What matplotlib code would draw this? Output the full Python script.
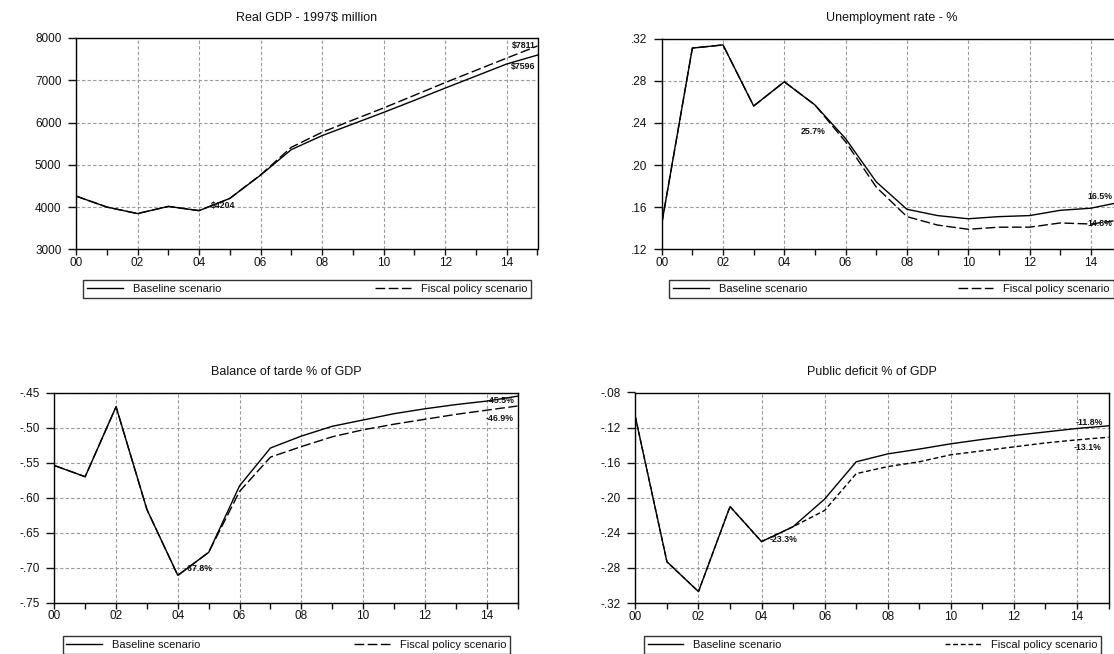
import matplotlib
matplotlib.use("Agg")
import matplotlib.pyplot as plt
from matplotlib.ticker import FuncFormatter, MultipleLocator, FixedLocator
from matplotlib.lines import Line2D

plt.rcParams['font.family'] = ['Liberation Sans', 'DejaVu Sans']

# ---------------- data ----------------
years = list(range(2000, 2016))
xtick_years = list(range(2000, 2015, 2))

gdp_base = [4260, 4000, 3845, 4015, 3915, 4204, 4755, 5360, 5690, 5965, 6240, 6525, 6815, 7100, 7385, 7596]
gdp_fiscal = [4260, 4000, 3845, 4015, 3915, 4204, 4762, 5415, 5770, 6060, 6345, 6645, 6945, 7235, 7525, 7811]

unemp_base = [.144, .311, .314, .256, .279, .257, .225, .184, .158, .152, .149, .151, .152, .157, .159, .165]
unemp_fiscal = [.144, .311, .314, .256, .279, .257, .222, .179, .151, .143, .139, .141, .141, .145, .144, .148]

trade_base = [-.554, -.570, -.470, -.617, -.711, -.678, -.583, -.529, -.512, -.498, -.489, -.480, -.473, -.467, -.462, -.455]
trade_fiscal = [-.554, -.570, -.470, -.617, -.711, -.678, -.591, -.542, -.527, -.513, -.503, -.495, -.488, -.481, -.475, -.469]

deficit_base = [-.108, -.273, -.307, -.210, -.250, -.233, -.2015, -.159, -.150, -.1445, -.1385, -.1335, -.129, -.125, -.121, -.118]
deficit_fiscal = [-.108, -.273, -.307, -.210, -.250, -.233, -.2145, -.1725, -.1645, -.159, -.151, -.1465, -.142, -.1375, -.134, -.131]

titles = ["Real GDP - 1997$ million", "Unemployment rate - %",
          "Balance of tarde % of GDP", "Public deficit % of GDP"]
series_names = ["Baseline scenario", "Fiscal policy scenario"]

# ---------------- layout (pixels) ----------------
W, H = 1114, 654
fig = plt.figure(figsize=(W / 100, H / 100), dpi=100)


def px_axes(l, r, t, b):
    return fig.add_axes([l / W, 1 - b / H, (r - l) / W, (b - t) / H])


def dec_fmt(v, pos):
    s = f"{v:.2f}"
    s = s.replace("-0.", "-.").replace("0.", ".")
    return s


def int_fmt(v, pos):
    return f"{int(round(v))}"


def year_fmt(v, pos):
    return f"{int(round(v)) % 100:02d}"


def style_axes(ax, ylim, ystep, yfmt, title):
    ax.set_xlim(2000, 2015)
    ax.set_ylim(*ylim)
    ax.xaxis.set_major_locator(FixedLocator(xtick_years))
    ax.xaxis.set_minor_locator(FixedLocator(list(range(2001, 2016, 2))))
    ax.xaxis.set_major_formatter(FuncFormatter(year_fmt))
    ax.yaxis.set_major_locator(MultipleLocator(ystep))
    ax.yaxis.set_major_formatter(FuncFormatter(yfmt))
    ax.tick_params(axis='x', which='both', direction='out', length=4, width=1,
                   labelsize=8.5, pad=1.5, colors='#111111')
    ax.tick_params(axis='y', which='major', direction='out', length=5.5, width=1,
                   labelsize=8.5, pad=5, colors='#111111')
    ax.grid(True, which='major', color='#9a9a9a', linestyle=(0, (3, 2)), linewidth=0.8)
    ax.set_axisbelow(True)
    for sp in ax.spines.values():
        sp.set_color('black')
        sp.set_linewidth(1.0)
    ax.set_title(title, fontsize=9, pad=12.5, color='#111111')


def plot_pair(ax, base, fiscal, dashes):
    l1, = ax.plot(years, base, color='black', lw=1.0, solid_joinstyle='miter')
    l2, = ax.plot(years, fiscal, color='black', lw=1.0, dashes=dashes)
    return l1, l2


def label(ax, x, y, text, dx_px, dy_px, ha):
    ax.annotate(text, xy=(x, y), xytext=(dx_px * 0.72, dy_px * 0.72),
                textcoords='offset points', ha=ha, va='center',
                fontsize=6.3, fontweight='bold', color='#111111',
                annotation_clip=False)


def add_legend(handles, l, r, t, dashes):
    h = [Line2D([], [], color='black', lw=1.0),
         Line2D([], [], color='black', lw=1.0, dashes=dashes)]
    leg = fig.legend(h, series_names, loc='upper left',
                     bbox_to_anchor=(l / W, 1 - t / H, (r - l) / W, 0.0001),
                     mode='expand', ncol=2, fontsize=8, frameon=True,
                     fancybox=False, borderpad=0.35, handlelength=3.2,
                     handletextpad=0.9, borderaxespad=0)
    fr = leg.get_frame()
    fr.set_edgecolor('black')
    fr.set_linewidth(1.0)
    for t_ in leg.get_texts():
        t_.set_color('#111111')


# ---- panel 1 ----
ax1 = px_axes(76, 537.5, 38, 249.3)
style_axes(ax1, (3000, 8000), 1000, int_fmt, titles[0])
d1 = (7, 2.5)
h1 = plot_pair(ax1, gdp_base, gdp_fiscal, d1)
label(ax1, years[-1], gdp_fiscal[-1], "$7811", -2, 0, 'right')
label(ax1, years[-1], gdp_base[-1], "$7596", -2, -11, 'right')
label(ax1, years[5], gdp_base[5], "$4204", -19, -7, 'left')
add_legend(h1, 83.3, 531, 280, d1)

# ---- panel 2 ----
ax2 = px_axes(661.7, 1121.5, 38.6, 249.3)
style_axes(ax2, (0.12, 0.32), 0.04, dec_fmt, titles[1])
d2 = (7, 2.5)
h2 = plot_pair(ax2, unemp_base, unemp_fiscal, d2)
label(ax2, years[5], unemp_base[5], "25.7%", -14, -27, 'left')
label(ax2, years[-1], unemp_base[-1], "16.5%", -9, 5, 'right')
label(ax2, years[-1], unemp_fiscal[-1], "14.8%", -9, -4, 'right')
add_legend(h2, 669.3, 1113.5, 280, d2)

# ---- panel 3 ----
ax3 = px_axes(54.3, 517.5, 392.7, 602.7)
style_axes(ax3, (-0.75, -0.45), 0.05, dec_fmt, titles[2])
d3 = (7, 2.5)
h3 = plot_pair(ax3, trade_base, trade_fiscal, d3)
label(ax3, years[5], trade_base[5], "-67.8%", -24, -16, 'left')
label(ax3, years[-1], trade_base[-1], "-45.5%", -3, -4, 'right')
label(ax3, years[-1], trade_fiscal[-1], "-46.9%", -4, -13, 'right')
add_legend(h3, 62.5, 510, 636, d3)

# ---- panel 4 ----
ax4 = px_axes(635.4, 1108.5, 392.5, 603)
style_axes(ax4, (-0.32, -0.08), 0.04, dec_fmt, titles[3])
d4 = (3.5, 2)
h4 = plot_pair(ax4, deficit_base, deficit_fiscal, d4)
label(ax4, years[5], deficit_base[5], "-23.3%", -23, -13, 'left')
label(ax4, years[-1], deficit_base[-1], "-11.8%", -6, 3, 'right')
label(ax4, years[-1], deficit_fiscal[-1], "-13.1%", -7, -10, 'right')
add_legend(h4, 644, 1101, 636, d4)

fig.savefig("out.png", dpi=100, facecolor='white')
